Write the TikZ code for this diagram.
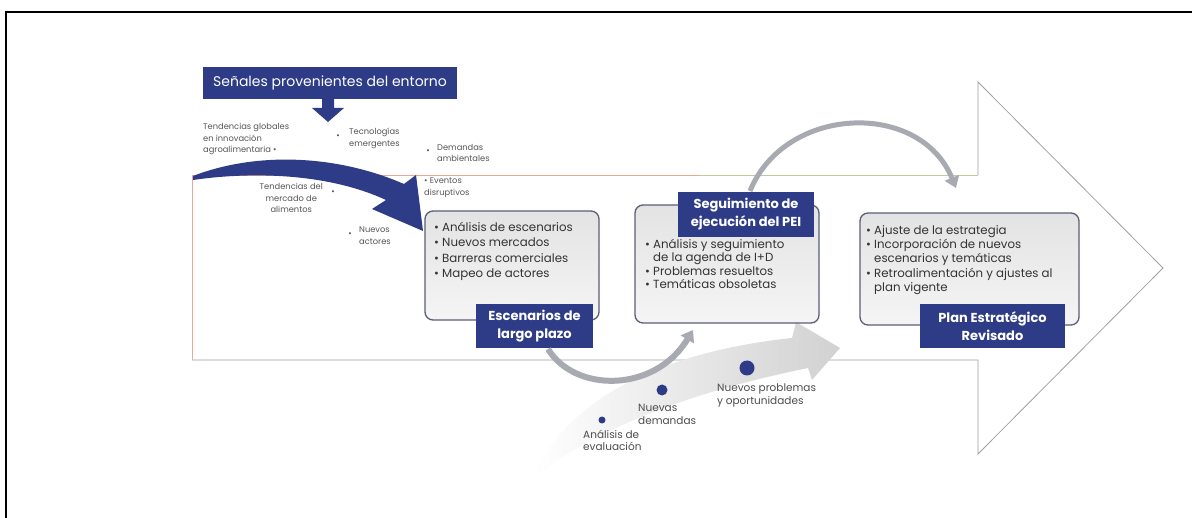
\documentclass[tikz,border=0pt]{standalone}
\usepackage{fontspec}
\setmainfont{Poppins}
\usetikzlibrary{arrows.meta}
\definecolor{navy}{HTML}{2E3C88}
\definecolor{boxline}{HTML}{5A5E78}
\definecolor{sigtext}{HTML}{555555}
\definecolor{arcgrey}{HTML}{A8AAB2}
\definecolor{salmon}{HTML}{E9A898}
\definecolor{olive}{HTML}{BFCB98}
\definecolor{outline}{HTML}{A0A0A0}
\tikzset{
  panel/.style={draw=boxline, line width=1.3pt, rounded corners=8pt, top color=black!11, bottom color=black!4},
  tag/.style={fill=navy, text=white, font=\fontsize{13}{18}\selectfont\bfseries, align=center, inner sep=0pt},
  sig/.style={text=sigtext, font=\fontsize{8.3}{11.5}\selectfont, inner sep=0pt},
  lst/.style={text=black!80, font=\fontsize{11.8}{15.3}\selectfont, align=left, inner sep=0pt, anchor=north west},
  bot/.style={text=black!70, font=\fontsize{10.5}{12.5}\selectfont, align=left, inner sep=0pt, anchor=north west},
  greyarc/.style={draw=arcgrey, line width=6pt, -{Triangle[length=11pt,width=15pt]}},
  dot/.style={circle, fill=navy, inner sep=0pt}
}
\begin{document}
\begin{tikzpicture}[x=1pt,y=-1pt]
\useasboundingbox (0,0) rectangle (1192,518);
% frame
\draw[line width=1.2pt] (6,518) -- (6,12) -- (1192,12);
% big outline arrow
\draw[outline, line width=0.8pt] (978,175) -- (978,82) -- (1163,268) -- (978,454) -- (978,360) -- (192,360);
\draw[salmon, line width=0.9pt] (192,360) -- (192,175) -- (700,175);
\draw[olive, line width=0.9pt] (700,175) -- (978,175);
% bottom swoosh
\shade[left color=white, right color=black!18]
  (533,478) .. controls (565,400) and (660,352) .. (792,338)
  -- (796,322) -- (840,348) -- (812,380) -- (808,368)
  .. controls (700,390) and (600,425) .. (533,478) -- cycle;
% header
\node[fill=navy, text=white, minimum width=254pt, minimum height=32pt, inner sep=0pt,
  font=\fontsize{14}{16}\selectfont] (hdr) at (330,83) {Señales provenientes del entorno};
\fill[navy] (322,99) -- (322,108) -- (312,108) -- (328,122) -- (344,108) -- (334,108) -- (334,99) -- cycle;
% signals
\node[sig, anchor=north west, align=left] (s1) at (203,123) {Tendencias globales\\en innovación\\agroalimentaria \textbullet};
\node[sig] (b2) at (338,137) {\textbullet};
\node[sig, anchor=north west, align=left] (s2) at (349,128) {Tecnologías\\emergentes};
\node[sig] (b3) at (428,152) {\textbullet};
\node[sig, anchor=north west, align=left] (s3) at (437,144) {Demandas\\ambientales};
\node[sig, anchor=north east, align=center] (s4) at (323,183) {Tendencias del\\mercado de\\alimentos};
\node[sig] (b4) at (333,193) {\textbullet};
\node[sig, anchor=north west, align=left] (s5) at (424,178) {\textbullet\ Eventos\\disruptivos};
\node[sig] (b6) at (350,235) {\textbullet};
\node[sig, anchor=north west, align=left] (s6) at (359,227) {Nuevos\\actores};
% blue curved arrow
\fill[navy] (193,176) .. controls (255,152) and (335,154) .. (404,184)
  -- (416,175) -- (423,231) -- (372,209) -- (386,200)
  .. controls (330,174) and (255,171) .. (193,180) -- cycle;
% panels
\node[panel, minimum width=174pt, minimum height=109pt] (p1) at (512,265.5) {};
\node[panel, minimum width=184pt, minimum height=118pt] (p2) at (727,264) {};
\node[panel, minimum width=219pt, minimum height=112pt] (p3) at (969.5,269) {};
\node[lst] (l1) at (434,222) {\textbullet\ Análisis de escenarios\\\textbullet\ Nuevos mercados\\\textbullet\ Barreras comerciales\\\textbullet\ Mapeo de actores};
\node[lst, font=\fontsize{11.8}{13.5}\selectfont] (l2) at (645,239) {\textbullet\ Análisis y seguimiento\\\phantom{\textbullet\ }de la agenda de I+D\\\textbullet\ Problemas resueltos\\\textbullet\ Temáticas obsoletas};
\node[lst, font=\fontsize{11.8}{14.3}\selectfont] (l3) at (866,225) {\textbullet\ Ajuste de la estrategia\\\textbullet\ Incorporación de nuevos\\\phantom{\textbullet\ }escenarios y temáticas\\\textbullet\ Retroalimentación y ajustes al\\\phantom{\textbullet\ }plan vigente};
% tags
\node[tag, minimum width=117pt, minimum height=44pt] (t1) at (534.5,326) {Escenarios de\\largo plazo};
\node[tag, minimum width=136pt, minimum height=45pt] (t2) at (746,214.5) {Seguimiento de\\ejecución del PEI};
\node[tag, minimum width=145pt, minimum height=44pt] (t3) at (992.5,326) {Plan Estratégico\\Revisado};
% grey arcs
\coordinate (c1s) at (548,349);
\coordinate (c1e) at (693,330);
\coordinate (c2s) at (750,191);
\coordinate (c2e) at (956,188);
\draw[greyarc] (c1s) .. controls (575,393) and (655,393) .. (c1e);
\draw[greyarc, line width=5pt] (c2s) .. controls (785,105) and (920,100) .. (c2e);
% dots and bottom labels
\node[dot, minimum size=7pt] (d1) at (602,420) {};
\node[dot, minimum size=11pt] (d2) at (662,390) {};
\node[dot, minimum size=15pt] (d3) at (747,368) {};
\node[bot] (e1) at (583,430) {Análisis de\\evaluación};
\node[bot] (e2) at (638,404) {Nuevas\\demandas};
\node[bot] (e3) at (717,384) {Nuevos problemas\\y oportunidades};
\end{tikzpicture}
\end{document}
